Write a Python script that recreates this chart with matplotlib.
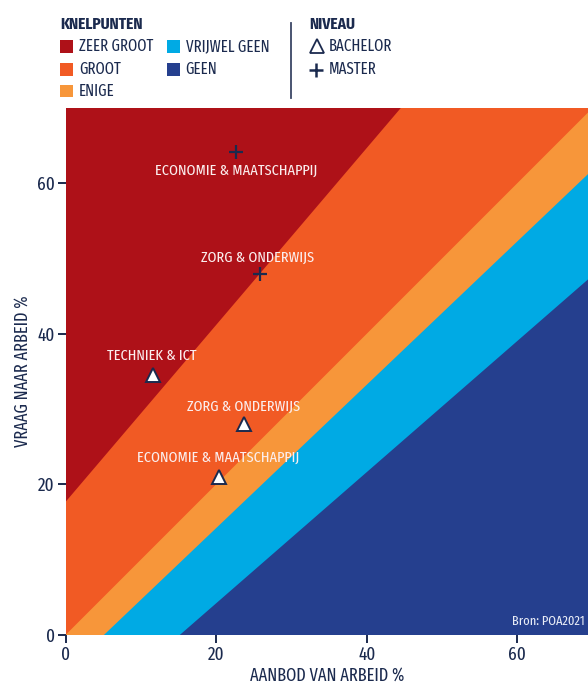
import numpy as np
import matplotlib
matplotlib.use("Agg")
import matplotlib.pyplot as plt
from matplotlib.lines import Line2D
from matplotlib.patches import Rectangle

# kleuren
NAVY_TXT = "#1b2a4e"
COL_ZEER = "#ae1118"
COL_GROOT = "#f15a24"
COL_ENIGE = "#f7963a"
COL_VRIJWEL = "#00aae4"
COL_GEEN = "#253f8e"

FONT = ["Fira Sans Extra Condensed", "DejaVu Sans"]
plt.rcParams["font.family"] = FONT

# grenslijnen tussen de zones: y = a + b * x (van hoog naar laag)
grens_intercept = [17.7, 0.0, -4.86, -13.24]
grens_helling = [1.175, 1.0, 0.952, 0.871]
zone_kleuren = [COL_ZEER, COL_GROOT, COL_ENIGE, COL_VRIJWEL]  # boven de grens

# opleidingen
labels = ["ECONOMIE & MAATSCHAPPIJ", "ZORG & ONDERWIJS", "TECHNIEK & ICT",
          "ZORG & ONDERWIJS", "ECONOMIE & MAATSCHAPPIJ"]
niveau = ["master", "master", "bachelor", "bachelor", "bachelor"]
aanbod = [22.6, 25.8, 11.6, 23.6, 20.3]
vraag = [64.1, 47.9, 34.5, 28.0, 21.0]

legend_zones = ["ZEER GROOT", "GROOT", "ENIGE", "VRIJWEL GEEN", "GEEN"]
legend_kleuren = [COL_ZEER, COL_GROOT, COL_ENIGE, COL_VRIJWEL, COL_GEEN]

W, H = 588, 684
fig = plt.figure(figsize=(W / 100, H / 100), dpi=100)

def fx(px):
    return px / W

def fy(py):
    return 1 - py / H

ax = fig.add_axes([fx(66), fy(634.5), fx(588 - 66), (634.5 - 108) / H])
ax.set_facecolor(COL_GEEN)
xmax, ymax = 69.4, 70.0
xs = np.array([0, xmax])
# eerst de laagste grens, daarna steeds hogere zones erover
for a, b, kleur in reversed(list(zip(grens_intercept, grens_helling, zone_kleuren))):
    ax.fill_between(xs, a + b * xs, 200, color=kleur, lw=0)

ax.set_xlim(0, xmax)
ax.set_ylim(0, ymax)

for x, y, niv in zip(aanbod, vraag, niveau):
    if niv == "bachelor":
        ax.plot(x, y, marker="^", ms=9.5, mfc="white", mec=NAVY_TXT, mew=1.4, zorder=5)
    else:
        ax.plot(x, y, marker="+", ms=10.5, mec=NAVY_TXT, mew=1.6, zorder=5)

# label-offsets (pixels), alleen opmaak
offsets = [(0, -18.5), (-2, 17), (-1, 19), (0, 17.5), (-1, 18.5)]
for (dx, dy), x, y, lab in zip(offsets, aanbod, vraag, labels):
    ax.annotate(lab, (x, y), xytext=(dx * 0.72, dy * 0.72), textcoords="offset points",
                ha="center", va="center", color="#fbeeee", fontsize=11.2, zorder=6)

for s in ax.spines.values():
    s.set_visible(False)
ax.set_xticks([0, 20, 40, 60])
ax.set_yticks([0, 20, 40, 60])
ax.tick_params(length=6, width=1.4, color=NAVY_TXT, labelcolor=NAVY_TXT,
               labelsize=13.5, pad=2)
ax.set_xlabel("AANBOD VAN ARBEID %", fontsize=12.8, color=NAVY_TXT, labelpad=2)
ax.set_ylabel("VRAAG NAAR ARBEID %", fontsize=12.8, color=NAVY_TXT, labelpad=4)

ax.text(0.993, 0.025, "Bron: POA2021", transform=ax.transAxes, ha="right", va="center",
        color="#e8ecf6", fontsize=9.7)

# legenda
fig.text(fx(60), fy(24), "KNELPUNTEN", fontsize=12, fontweight="bold",
         color=NAVY_TXT, va="center", ha="left")
fig.text(fx(309), fy(24), "NIVEAU", fontsize=12, fontweight="bold",
         color=NAVY_TXT, va="center", ha="left")
rij_y = [46.7, 69.2, 91.0]
kol = [(60.3, 79), (167, 185.7)]
for i, (naam, kleur) in enumerate(zip(legend_zones, legend_kleuren)):
    sx, tx = kol[i // 3]
    ry = rij_y[i % 3]
    fig.add_artist(Rectangle((fx(sx), fy(ry + 6.4)), 12.6 / W, 12.8 / H,
                             transform=fig.transFigure, color=kleur, lw=0))
    fig.text(fx(tx), fy(ry), naam, fontsize=11.6, color=NAVY_TXT, va="center", ha="left")

fig.add_artist(Line2D([fx(291), fx(291)], [fy(22.7), fy(98.3)], transform=fig.transFigure,
                      color="#3b4766", lw=1.3))
fig.add_artist(Line2D([fx(316.5)], [fy(46.3)], transform=fig.transFigure, marker="^",
                      ms=10, mfc="none", mec=NAVY_TXT, mew=1.3, ls="none"))
fig.add_artist(Line2D([fx(316.3)], [fy(70)], transform=fig.transFigure, marker="+",
                      ms=10, mec=NAVY_TXT, mew=1.8, ls="none"))
fig.text(fx(328.3), fy(46.7), "BACHELOR", fontsize=11.6, color=NAVY_TXT, va="center", ha="left")
fig.text(fx(328.3), fy(69.2), "MASTER", fontsize=11.6, color=NAVY_TXT, va="center", ha="left")

fig.savefig("out.png", dpi=100)
